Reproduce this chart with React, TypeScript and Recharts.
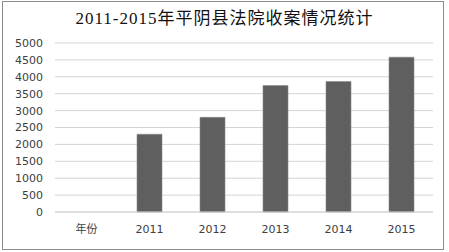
import React from 'react';
import { BarChart, Bar, XAxis, YAxis, CartesianGrid } from 'recharts';

const categories = ['年份', '2011', '2012', '2013', '2014', '2015'];
const caseCounts: (number | null)[] = [null, 2300, 2800, 3740, 3860, 4580];
const yTicks = [0, 500, 1000, 1500, 2000, 2500, 3000, 3500, 4000, 4500, 5000];
const title = '2011-2015年平阴县法院收案情况统计';

const data = categories.map((c, i) => ({ name: c, value: caseCounts[i] }));

export default function App() {
  return (
    <div style={{ position: 'absolute', left: 0, top: 0, width: 449, height: 252, background: '#fff' }}>
      <div
        style={{
          position: 'absolute',
          left: 2,
          top: 1,
          width: 442,
          height: 249,
          border: '1px solid #8c8c8c',
          boxSizing: 'border-box',
        }}
      />
      <div
        style={{
          position: 'absolute',
          left: 0,
          top: 8,
          width: 449,
          textAlign: 'center',
          fontFamily: "'Liberation Serif', 'Noto Sans CJK SC', serif",
          fontSize: 17,
          color: '#111',
          lineHeight: '22px',
          letterSpacing: 1,
        }}
      >
        {title}
      </div>
      <div style={{ position: 'absolute', left: 0, top: 0 }}>
        <BarChart
          width={449}
          height={252}
          data={data}
          margin={{ top: 43, right: 16, bottom: 10, left: 5 }}
          barSize={25}
        >
          <CartesianGrid vertical={false} stroke="#d4d4d4" strokeWidth={1} />
          <XAxis
            dataKey="name"
            height={30}
            tickLine={false}
            axisLine={{ stroke: '#d4d4d4' }}
            tickMargin={7}
            interval={0}
            tick={{ fill: '#404040', fontSize: 11, fontFamily: "'DejaVu Sans', 'Noto Sans CJK SC', sans-serif" }}
          />
          <YAxis
            width={50}
            domain={[0, 5000]}
            ticks={yTicks}
            interval={0}
            tickLine={false}
            axisLine={false}
            tickMargin={6}
            tick={{ fill: '#404040', fontSize: 11, fontFamily: "'DejaVu Sans', sans-serif" }}
          />
          <Bar dataKey="value" fill="#5f5f5f" stroke="#8a8a8a" strokeWidth={0.6} isAnimationActive={false} />
        </BarChart>
      </div>
    </div>
  );
}
